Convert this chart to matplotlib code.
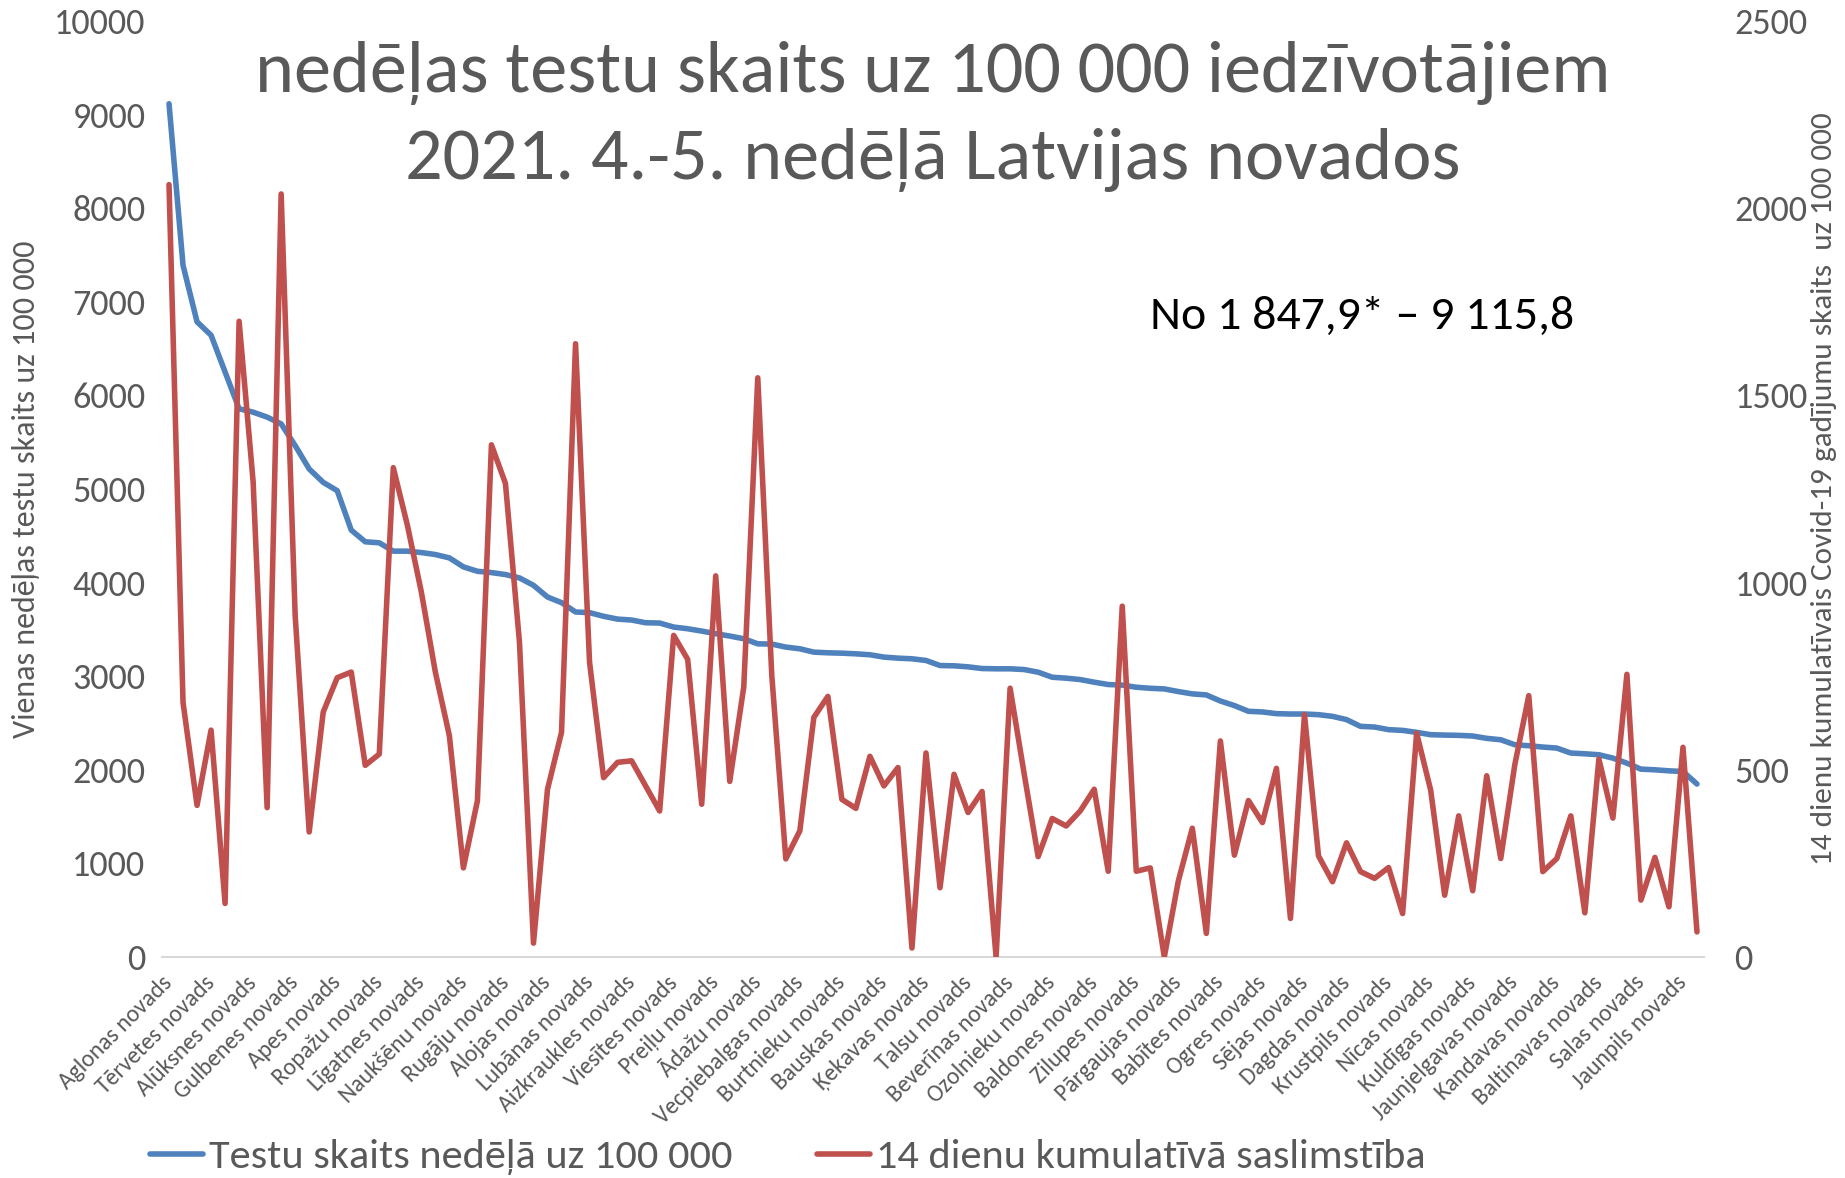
import matplotlib
matplotlib.use("Agg")
import matplotlib.pyplot as plt

plt.rcParams['font.family'] = ['Carlito', 'Lato', 'DejaVu Sans']

# ---- data ----
tick_labels = [
    "Aglonas novads", "Tērvetes novads", "Alūksnes novads", "Gulbenes novads",
    "Apes novads", "Ropažu novads", "Līgatnes novads", "Naukšēnu novads",
    "Rugāju novads", "Alojas novads", "Lubānas novads", "Aizkraukles novads",
    "Viesītes novads", "Preiļu novads", "Ādažu novads", "Vecpiebalgas novads",
    "Burtnieku novads", "Bauskas novads", "Ķekavas novads", "Talsu novads",
    "Beverīnas novads", "Ozolnieku novads", "Baldones novads", "Zilupes novads",
    "Pārgaujas novads", "Babītes novads", "Ogres novads", "Sējas novads",
    "Dagdas novads", "Krustpils novads", "Nīcas novads", "Kuldīgas novads",
    "Jaunjelgavas novads", "Kandavas novads", "Baltinavas novads", "Salas novads",
    "Jaunpils novads",
]

tests = [
    9116, 7390, 6786, 6643, 6250, 5857, 5821, 5768, 5696, 5464,
    5214, 5071, 4982, 4561, 4436, 4425, 4336, 4336, 4321, 4300,
    4264, 4168, 4121, 4107, 4086, 4050, 3971, 3846, 3786, 3686,
    3679, 3640, 3610, 3600, 3571, 3568, 3525, 3507, 3482, 3454,
    3429, 3400, 3346, 3343, 3311, 3293, 3257, 3250, 3246, 3239,
    3229, 3204, 3193, 3186, 3168, 3114, 3111, 3100, 3082, 3079,
    3079, 3071, 3043, 2989, 2979, 2964, 2936, 2911, 2905, 2882,
    2871, 2864, 2836, 2811, 2800, 2735, 2686, 2625, 2618, 2600,
    2596, 2596, 2589, 2571, 2536, 2464, 2457, 2429, 2421, 2400,
    2375, 2371, 2368, 2361, 2336, 2321, 2268, 2257, 2243, 2232,
    2179, 2171, 2161, 2125, 2071, 2007, 2000, 1989, 1982, 1848,
]

cumulative14 = [
    2063, 680, 405, 606, 143, 1698, 1270, 399, 2038, 912,
    334, 654, 746, 761, 512, 542, 1307, 1154, 975, 761,
    591, 238, 417, 1368, 1265, 841, 37, 448, 600, 1638,
    787, 479, 520, 524, 457, 390, 859, 795, 408, 1018,
    469, 721, 1547, 752, 262, 337, 640, 696, 421, 397,
    536, 457, 506, 24, 545, 185, 488, 386, 442, 0,
    718, 490, 268, 370, 350, 390, 448, 229, 937, 229,
    238, 0, 203, 344, 63, 577, 272, 418, 359, 504,
    103, 647, 270, 201, 305, 228, 210, 239, 116, 598,
    446, 165, 377, 177, 484, 263, 513, 698, 228, 263,
    377, 118, 529, 371, 755, 152, 266, 134, 560, 67,
]

series_names = ["Testu skaits nedēļā uz 100 000", "14 dienu kumulatīvā saslimstība"]

GRAY = "#595959"
BLUE = "#4f81bd"
RED = "#c0504d"

W, H = 1845, 1178
fig = plt.figure(figsize=(W / 100, H / 100), dpi=100)

left, right = 162 / W, 1704 / W
bottom, top = (H - 957) / H, (H - 21) / H
ax = fig.add_axes([left, bottom, right - left, top - bottom])
ax2 = ax.twinx()

x = list(range(len(tests)))
l1, = ax.plot(x, tests, color=BLUE, lw=4.0, solid_joinstyle='round', solid_capstyle='round', zorder=3)
l2, = ax2.plot(x, cumulative14, color=RED, lw=4.0, solid_joinstyle='round', solid_capstyle='round', zorder=3)

ax.set_xlim(-0.5, len(tests) - 0.5)
ax.set_ylim(0, 10000)
ax2.set_ylim(0, 2500)
ax.set_yticks(range(0, 10001, 1000))
ax2.set_yticks(range(0, 2501, 500))

for a in (ax, ax2):
    for s in a.spines.values():
        s.set_visible(False)
ax.spines['bottom'].set_visible(True)
ax.spines['bottom'].set_color("#d9d9d9")
ax.spines['bottom'].set_linewidth(1.5)

ax.tick_params(axis='y', length=0, labelsize=26, labelcolor=GRAY, pad=12)
ax2.tick_params(axis='y', length=0, labelsize=26, labelcolor=GRAY, pad=22)
ax.set_xticks(range(0, len(tests), 3))
ax.set_xticklabels(tick_labels, rotation=45, ha='right', va='center',
                   rotation_mode='anchor', fontsize=17, color=GRAY)
ax.tick_params(axis='x', length=0, pad=16)

ax.set_ylabel("Vienas nedēļas testu skaits uz 100 000", fontsize=23, color=GRAY, labelpad=10)
ax2.set_ylabel("14 dienu kumulatīvais Covid-19 gadījumu skaits  uz 100 000",
               fontsize=22.5, color=GRAY, labelpad=2)

cx = 933 / W
fig.text(cx, 1 - 92 / H, "nedēļas testu skaits uz 100 000 iedzīvotājiem",
         ha='center', va='baseline', fontsize=53.5, color=GRAY)
fig.text(cx, 1 - 179 / H, "2021. 4.-5. nedēļā Latvijas novados",
         ha='center', va='baseline', fontsize=53.5, color=GRAY)

fig.text(1362 / W, 1 - 316 / H, "No 1 847,9* – 9 115,8", ha='center', va='center',
         fontsize=34.5, color="black")

fig.legend([l1, l2], series_names, loc='center', bbox_to_anchor=(788 / W, 21 / H),
           ncol=2, frameon=False, fontsize=30.5, labelcolor=GRAY,
           handlelength=1.25, handletextpad=0.14, columnspacing=2.0)

fig.savefig("out.png", dpi=100)
